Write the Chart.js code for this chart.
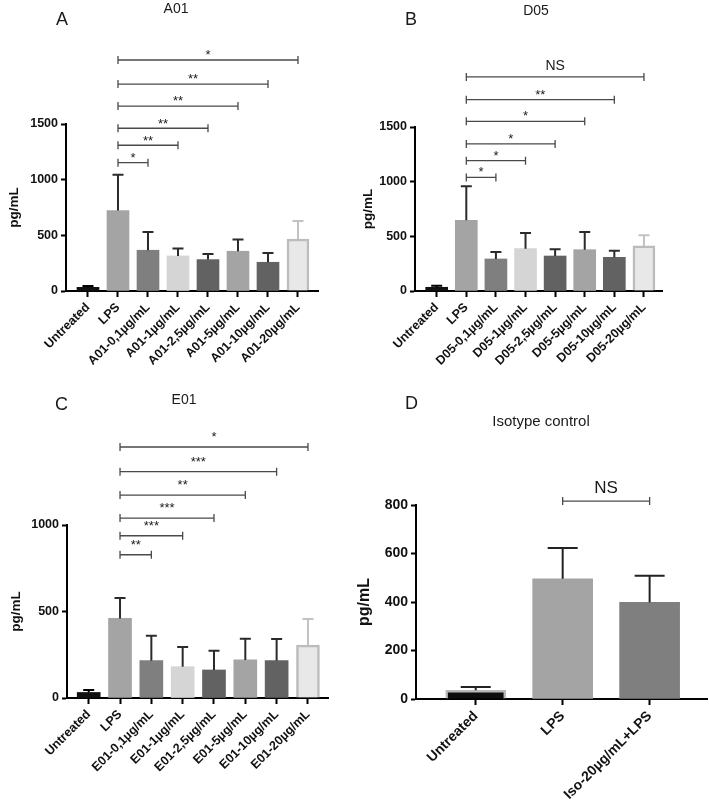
<!DOCTYPE html>
<html><head><meta charset="utf-8">
<script src="https://cdn.jsdelivr.net/npm/chart.js@4/dist/chart.umd.min.js"></script>
<style>
html,body{margin:0;padding:0;background:#fff}
body{width:709px;height:812px;position:relative;overflow:hidden;font-family:'Liberation Sans',Arial,sans-serif}
canvas{position:absolute}
.t{position:absolute;line-height:1;white-space:nowrap;color:#1a1a1a}
.c{transform:translateX(-50%)}
</style></head><body>
<canvas id="cA" width="354" height="400" style="left:0;top:0;width:354px;height:400px"></canvas>
<canvas id="cB" width="355" height="400" style="left:354px;top:0;width:355px;height:400px"></canvas>
<canvas id="cC" width="354" height="412" style="left:0;top:400px;width:354px;height:412px"></canvas>
<canvas id="cD" width="355" height="412" style="left:354px;top:400px;width:355px;height:412px"></canvas>

<div class="t" style="left:56px;top:10px;font-size:18px">A</div>
<div class="t c" style="left:176px;top:1px;font-size:14px">A01</div>
<div class="t" style="left:405px;top:10px;font-size:18px">B</div>
<div class="t c" style="left:536px;top:3px;font-size:14px">D05</div>
<div class="t" style="left:55px;top:395px;font-size:18px">C</div>
<div class="t c" style="left:184px;top:392px;font-size:14px">E01</div>
<div class="t" style="left:405px;top:394px;font-size:18px">D</div>
<div class="t c" style="left:541px;top:413px;font-size:15px">Isotype control</div>

<script>
// ---------- data ----------
const groupsA = ['Untreated','LPS','A01-0,1µg/mL','A01-1µg/mL','A01-2,5µg/mL','A01-5µg/mL','A01-10µg/mL','A01-20µg/mL'];
const meanA = [33, 723, 366, 315, 282, 357, 258, 466];
const errA  = [12, 322, 165, 66, 51, 105, 84, 162];
const sigA  = [[1,2,1153,'*'],[1,3,1309,'**'],[1,4,1462,'**'],[1,5,1661,'**'],[1,6,1859,'**'],[1,7,2075,'*']];
const yTicksA = [0, 500, 1000, 1500];

const groupsB = ['Untreated','LPS','D05-0,1µg/mL','D05-1µg/mL','D05-2,5µg/mL','D05-5µg/mL','D05-10µg/mL','D05-20µg/mL'];
const meanB = [34, 646, 293, 387, 320, 378, 308, 412];
const errB  = [15, 311, 64, 144, 61, 162, 61, 97];
const sigB  = [[1,2,1039,'*'],[1,3,1192,'*'],[1,4,1345,'*'],[1,5,1552,'*'],[1,6,1750,'**'],[1,7,1958,'NS']];
const yTicksB = [0, 500, 1000, 1500];

const groupsC = ['Untreated','LPS','E01-0,1µg/mL','E01-1µg/mL','E01-2,5µg/mL','E01-5µg/mL','E01-10µg/mL','E01-20µg/mL'];
const meanC = [32, 460, 216, 181, 162, 220, 216, 306];
const errC  = [14, 118, 144, 114, 111, 123, 125, 151];
const sigC  = [[1,2,828,'**'],[1,3,938,'***'],[1,4,1040,'***'],[1,5,1173,'**'],[1,6,1308,'***'],[1,7,1451,'*']];
const yTicksC = [0, 500, 1000];

const groupsD = ['Untreated','LPS','Iso-20µg/mL+LPS'];
const meanD = [36, 496, 399];
const errD  = [14, 127, 109];
const sigD  = [[1,2,816,'NS']];
const yTicksD = [0, 200, 400, 600, 800];

// ---------- styles ----------
const FONT = "'Liberation Sans', Arial, sans-serif";
const fill8   = ['#111111','#a4a4a4','#7f7f7f','#d5d5d5','#626262','#a4a4a4','#626262','#e8e8e8'];
const border8 = ['#111111','#a4a4a4','#7f7f7f','#d5d5d5','#626262','#a4a4a4','#626262','#bcbcbc'];
const bw8     = [0,0,0,0,0,0,0,2.5];
const errc8   = ['#000000','#2b2b2b','#2b2b2b','#2b2b2b','#2b2b2b','#2b2b2b','#2b2b2b','#c2c2c2'];
const fill3   = ['#0d0d0d','#a4a4a4','#7f7f7f'];
const border3 = ['#b8b8b8','#a4a4a4','#7f7f7f'];
const bw3     = [2.5,0,0];
const errc3   = ['#222222','#222222','#222222'];

function annotPlugin(p) {
  return {
    id: 'annot',
    afterDatasetsDraw(chart) {
      const ctx = chart.ctx, xs = chart.scales.x, ys = chart.scales.y;
      const meta = chart.getDatasetMeta(0);
      ctx.save();
      ctx.lineCap = 'butt';
      meta.data.forEach((bar, i) => {
        const top = ys.getPixelForValue(p.mean[i] + p.err[i]);
        ctx.strokeStyle = p.errColors[i];
        ctx.lineWidth = p.errWidth;
        ctx.beginPath();
        ctx.moveTo(bar.x, bar.y);
        ctx.lineTo(bar.x, top);
        ctx.moveTo(bar.x - p.cap / 2, top);
        ctx.lineTo(bar.x + p.cap / 2, top);
        ctx.stroke();
      });
      p.sig.forEach(([a, b, h, label]) => {
        const x0 = xs.getPixelForValue(a), x1 = xs.getPixelForValue(b), yy = ys.getPixelForValue(h);
        ctx.strokeStyle = '#4a4a4a';
        ctx.lineWidth = 1.3;
        ctx.beginPath();
        ctx.moveTo(x0, yy); ctx.lineTo(x1, yy);
        ctx.moveTo(x0, yy - 4); ctx.lineTo(x0, yy + 4);
        ctx.moveTo(x1, yy - 4); ctx.lineTo(x1, yy + 4);
        ctx.stroke();
        ctx.fillStyle = '#1a1a1a';
        ctx.textAlign = 'center';
        ctx.textBaseline = 'alphabetic';
        if (label === 'NS') {
          ctx.font = p.nsSize + 'px ' + FONT;
          ctx.fillText(label, (x0 + x1) / 2, yy - p.nsGap);
        } else {
          ctx.font = '13px ' + FONT;
          ctx.fillText(label, (x0 + x1) / 2, yy - p.starGap);
        }
      });
      ctx.restore();
    }
  };
}

function makePanel(id, p) {
  const tickFont = { family: FONT, size: p.tickSize, weight: 'bold' };
  new Chart(document.getElementById(id), {
    type: 'bar',
    data: {
      datasets: [{
        data: p.mean.map((v, i) => ({ x: i, y: v })),
        backgroundColor: p.fill,
        borderColor: p.border,
        borderWidth: p.bw,
        barThickness: p.barW
      }]
    },
    options: {
      responsive: false,
      animation: false,
      events: [],
      layout: { padding: { top: p.padTop, right: p.padRight, bottom: 0, left: 0 } },
      plugins: { legend: { display: false }, tooltip: { enabled: false } },
      scales: {
        x: {
          type: 'linear', min: p.xMin, max: p.xMax, offset: false, bounds: 'data',
          afterBuildTicks: s => { s.ticks = p.groups.map((g, i) => ({ value: i })); },
          afterFit: s => { s.height = p.xH; },
          ticks: { autoSkip: false, minRotation: 45, maxRotation: 45, padding: 3, color: '#111',
                   font: { family: FONT, size: p.labelSize, weight: 'bold' },
                   callback: (v, i) => p.groups[i] },
          grid: { display: true, offset: false, drawOnChartArea: false, drawTicks: true,
                  tickLength: 6, tickWidth: 2, tickColor: '#000', color: '#000' },
          border: { display: true, color: '#000', width: 2 }
        },
        y: {
          type: 'linear', min: 0, max: p.yTicks[p.yTicks.length - 1],
          afterBuildTicks: s => { s.ticks = p.yTicks.map(v => ({ value: v })); },
          afterFit: s => { s.width = p.yW; },
          ticks: { autoSkip: false, padding: 3, color: '#111', font: tickFont,
                   callback: v => String(v) },
          grid: { display: true, drawOnChartArea: false, drawTicks: true,
                  tickLength: 5, tickWidth: 2, tickColor: '#000', color: '#000' },
          border: { display: true, color: '#000', width: 2 },
          title: { display: true, text: 'pg/mL', color: '#111',
                   font: { family: FONT, size: p.titleSize, weight: 'bold' },
                   padding: { top: p.titlePad, bottom: 0 } }
        }
      }
    },
    plugins: [annotPlugin(p)]
  });
}

makePanel('cA', { groups: groupsA, mean: meanA, err: errA, sig: sigA, yTicks: yTicksA,
  fill: fill8, border: border8, bw: bw8, errColors: errc8, errWidth: 2, cap: 11, barW: 22,
  padTop: 124, padRight: 36, yW: 66, xH: 109, xMin: -0.733, xMax: 7.667,
  tickSize: 12.5, labelSize: 12.5, titleSize: 13.5, titlePad: 6, starGap: 0.6, nsGap: 7, nsSize: 14 });

makePanel('cB', { groups: groupsB, mean: meanB, err: errB, sig: sigB, yTicks: yTicksB,
  fill: fill8, border: border8, bw: bw8, errColors: errc8, errWidth: 2, cap: 11, barW: 22,
  padTop: 127, padRight: 47, yW: 61, xH: 109, xMin: -0.733, xMax: 7.61,
  tickSize: 12.5, labelSize: 12.5, titleSize: 13.5, titlePad: 6, starGap: 1, nsGap: 7, nsSize: 14 });

makePanel('cC', { groups: groupsC, mean: meanC, err: errC, sig: sigC, yTicks: yTicksC,
  fill: fill8, border: border8, bw: bw8, errColors: errc8, errWidth: 2, cap: 11, barW: 23,
  padTop: 125, padRight: 26, yW: 67, xH: 114, xMin: -0.693, xMax: 7.64,
  tickSize: 12.5, labelSize: 12.5, titleSize: 13.5, titlePad: 8, starGap: 6, nsGap: 7, nsSize: 14 });

makePanel('cD', { groups: groupsD, mean: meanD, err: errD, sig: sigD, yTicks: yTicksD,
  fill: fill3, border: border3, bw: bw3, errColors: errc3, errWidth: 2, cap: 30, barW: 60,
  padTop: 105, padRight: 2, yW: 62, xH: 113, xMin: -0.687, xMax: 2.66,
  tickSize: 14, labelSize: 14, titleSize: 16, titlePad: 1, starGap: 6, nsGap: 8, nsSize: 17 });
</script>
</body></html>
